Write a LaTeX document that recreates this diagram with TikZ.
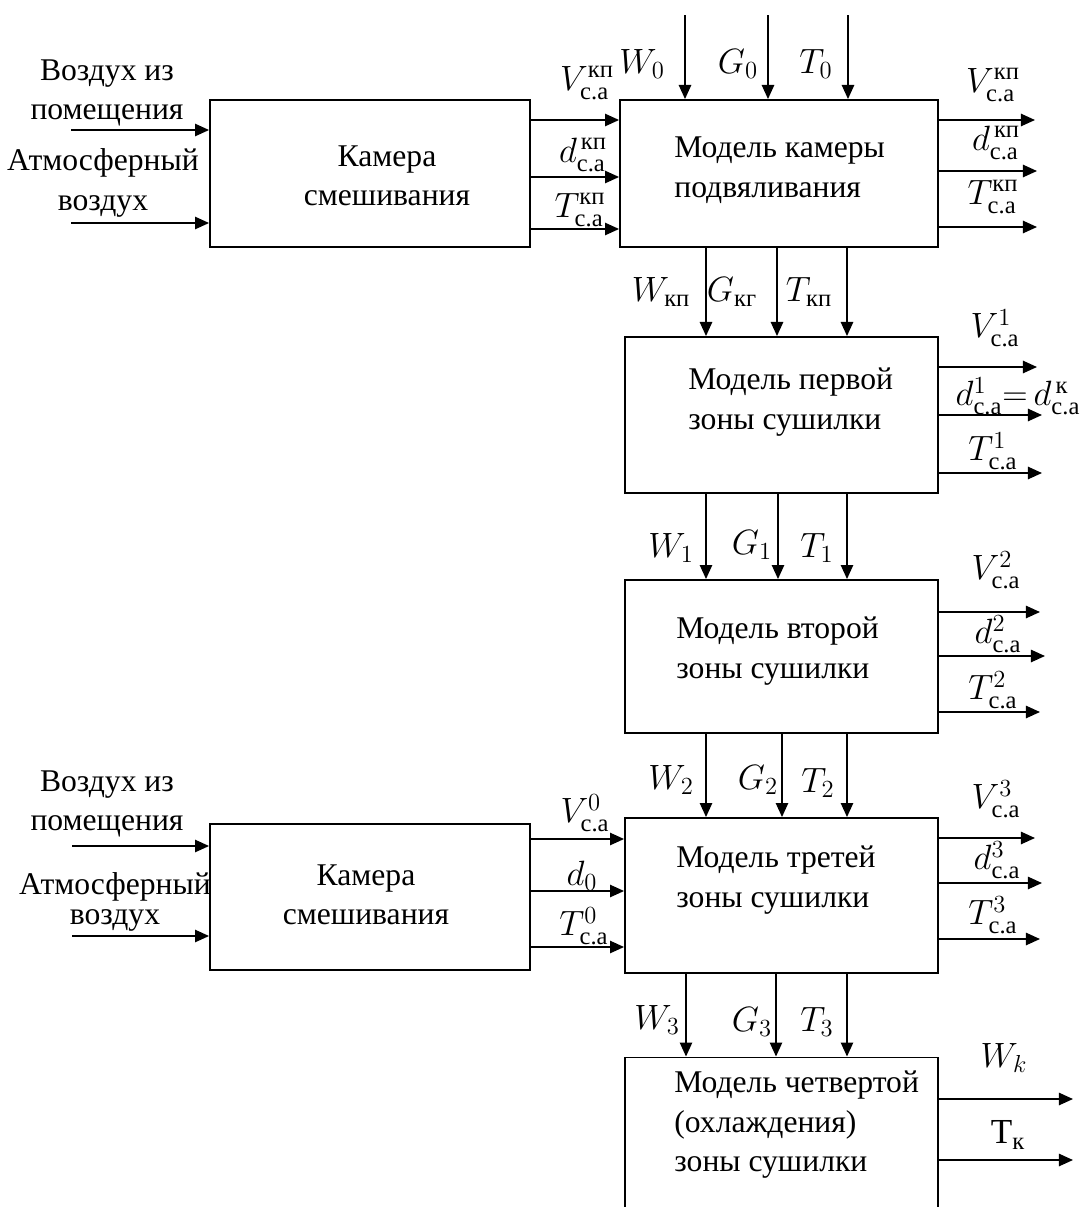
\RequirePackage{fix-cm}
\documentclass[tikz,border=0pt]{standalone}
\usepackage{amsmath}
\usepackage{fontspec}
\setmainfont{Liberation Serif}
\usepackage{tikz}
\usetikzlibrary{arrows.meta,calc}

\newcommand{\txtsize}{\fontsize{18}{22.5}\selectfont}
\newcommand{\lblsize}{\fontsize{20}{24}\selectfont}
\newcommand{\ca}{\text{с.а}}

\tikzset{
  blk/.style={draw, line width=1.1pt, inner sep=0pt},
  txt/.style={font=\txtsize, inner sep=0pt},
  lbl/.style={font=\lblsize, inner sep=0pt},
  flow/.style={->, line width=1pt}
}

\begin{document}
\begin{tikzpicture}[x=0.02cm, y=-0.02cm, >={Triangle[length=8pt,width=7pt]}]
        \useasboundingbox (0,0) rectangle (1083,1207);
        % blocks
        \node[blk, minimum width=6.4cm,  minimum height=2.94cm] (mixA) at (370,173.5) {};
        \node[blk, minimum width=6.36cm, minimum height=2.94cm] (wilt) at (779,173.5) {};
        \node[blk, minimum width=6.26cm, minimum height=3.12cm] (zone1) at (781.5,415) {};
        \node[blk, minimum width=6.26cm, minimum height=3.06cm] (zone2) at (781.5,656.5) {};
        \node[blk, minimum width=6.26cm, minimum height=3.1cm]  (zone3) at (781.5,895.5) {};
        \node[blk, minimum width=6.26cm, minimum height=3.3cm]  (zone4) at (781.5,1140) {};
        \node[blk, minimum width=6.4cm,  minimum height=2.92cm] (mixB) at (370,897) {};
        % block texts
        \node[txt, align=center] (tmixA) at (387,176) {Камера\\смешивания};
        \node[txt, align=left, anchor=west] (twilt) at (674,170) {Модель камеры\\подвяливания};
        \node[txt, align=left, anchor=west] (tzone1) at (688,402) {Модель первой\\зоны сушилки};
        \node[txt, align=left, anchor=west] (tzone2) at (676,651) {Модель второй\\зоны сушилки};
        \node[txt, align=left, anchor=west] (tzone3) at (676,880) {Модель третей\\зоны сушилки};
        \node[txt, align=left, anchor=west] (tzone4) at (674,1125) {Модель четвертой\\(охлаждения)\\зоны сушилки};
        \node[txt, align=center] (tmixB) at (366,895) {Камера\\смешивания};
        % air inputs
        \node[txt, align=center] (roomA) at (107,93) {Воздух из\\помещения};
        \node[txt, align=center] (atmA) at (103,183) {Атмосферный\\воздух};
        \node[txt, align=center] (roomB) at (107,804) {Воздух из\\помещения};
        \node[txt, align=center] (atmB) at (115,902) {Атмосферный\\[-5pt]воздух};
        \draw[flow] (71,130) -- (mixA.west |- 0,130);
        \draw[flow] (71,223) -- (mixA.west |- 0,223);
        \draw[flow] (72,846) -- (mixB.west |- 0,846);
        \draw[flow] (72,936) -- (mixB.west |- 0,936);
        % mixing chamber -> wilting chamber
        \foreach \yy in {120,177,229}
            \draw[flow] (mixA.east |- 0,\yy) -- (wilt.west |- 0,\yy);
        \node[lbl] (vin) at (587,83) {$V^{\text{кп}}_{\ca}$};
        \node[lbl] (din) at (583,155) {$d^{\,\text{кп}}_{\ca}$};
        \node[lbl] (tin) at (580,210) {$T^{\text{кп}}_{\ca}$};
        % top inputs
        \foreach \xx in {685,768,848}
            \draw[flow] (\xx,15) -- (wilt.north -| \xx,0);
        \node[lbl] (w0) at (642,64) {$W_0$};
        \node[lbl] (g0) at (738,64) {$G_0$};
        \node[lbl] (t0) at (816,64) {$T_0$};
        % wilting chamber outputs
        \draw[flow] (wilt.east |- 0,120) -- (1035,120);
        \draw[flow] (wilt.east |- 0,171) -- (1037,171);
        \draw[flow] (wilt.east |- 0,227) -- (1037,227);
        \node[lbl] (vkp) at (993,85) {$V^{\text{кп}}_{\ca}$};
        \node[lbl] (dkp) at (996,143) {$d^{\,\text{кп}}_{\ca}$};
        \node[lbl] (tkp) at (993,197) {$T^{\text{кп}}_{\ca}$};
        % wilting -> zone 1
        \foreach \xx in {706,777,847}
            \draw[flow] (wilt.south -| \xx,0) -- (zone1.north -| \xx,0);
        \node[lbl] (wkp) at (661,292) {$W_{\text{кп}}$};
        \node[lbl] (gkp) at (732,292) {$G_{\text{кг}}$};
        \node[lbl] (tkpd) at (809,292) {$T_{\text{кп}}$};
        % zone 1 outputs
        \draw[flow] (zone1.east |- 0,367) -- (1037,367);
        \draw[flow] (zone1.east |- 0,415) -- (1042,415);
        \draw[flow] (zone1.east |- 0,473) -- (1042,473);
        \node[lbl] (v1) at (995,328) {$V^{1}_{\ca}$};
        \node[lbl] (d1) at (1018,396) {$d^{1}_{\ca}{=}\,d^{\,\text{к}}_{\ca}$};
        \node[lbl] (t1) at (993,451) {$T^{1}_{\ca}$};
        % zone 1 -> zone 2
        \foreach \xx in {706,778,847}
            \draw[flow] (zone1.south -| \xx,0) -- (zone2.north -| \xx,0);
        \node[lbl] (w1) at (671,548) {$W_1$};
        \node[lbl] (g1) at (752,545) {$G_1$};
        \node[lbl] (tt1) at (817,548) {$T_1$};
        % zone 2 outputs
        \draw[flow] (zone2.east |- 0,612) -- (1040,612);
        \draw[flow] (zone2.east |- 0,656) -- (1045,656);
        \draw[flow] (zone2.east |- 0,712) -- (1040,712);
        \node[lbl] (v2) at (996,570) {$V^{2}_{\ca}$};
        \node[lbl] (d2) at (998,634) {$d^{2}_{\ca}$};
        \node[lbl] (t2) at (993,690) {$T^{2}_{\ca}$};
        % zone 2 -> zone 3
        \foreach \xx in {706,782,847}
            \draw[flow] (zone2.south -| \xx,0) -- (zone3.north -| \xx,0);
        \node[lbl] (w2) at (671,780) {$W_2$};
        \node[lbl] (g2) at (758,780) {$G_2$};
        \node[lbl] (tt2) at (818,783) {$T_2$};
        % lower mixing chamber -> zone 3
        \foreach \yy in {839,891,947}
            \draw[flow] (mixB.east |- 0,\yy) -- (zone3.west |- 0,\yy);
        \node[lbl] (v0) at (585,813) {$V^{0}_{\ca}$};
        \node[lbl] (d0) at (582,876) {$d_0$};
        \node[lbl] (tz) at (584,926) {$T^{0}_{\ca}$};
        % zone 3 outputs
        \draw[flow] (zone3.east |- 0,838) -- (1035,838);
        \draw[flow] (zone3.east |- 0,883) -- (1042,883);
        \draw[flow] (zone3.east |- 0,939) -- (1040,939);
        \node[lbl] (v3) at (996,799) {$V^{3}_{\ca}$};
        \node[lbl] (d3) at (997,860) {$d^{3}_{\ca}$};
        \node[lbl] (t3) at (993,915) {$T^{3}_{\ca}$};
        % zone 3 -> zone 4
        \foreach \xx in {686,776,847}
            \draw[flow] (zone3.south -| \xx,0) -- (zone4.north -| \xx,0);
        \node[lbl] (w3) at (657,1020) {$W_3$};
        \node[lbl] (g3) at (752,1022) {$G_3$};
        \node[lbl] (tt3) at (817,1022) {$T_3$};
        % zone 4 outputs
        \draw[flow] (zone4.east |- 0,1099) -- (1073,1099);
        \draw[flow] (zone4.east |- 0,1160) -- (1073,1160);
        \node[lbl] (wk) at (1004,1058) {$W_k$};
        \node[lbl] (tk) at (1008,1135) {$\text{Т}_{\text{к}}$};
    \end{tikzpicture}
\end{document}
